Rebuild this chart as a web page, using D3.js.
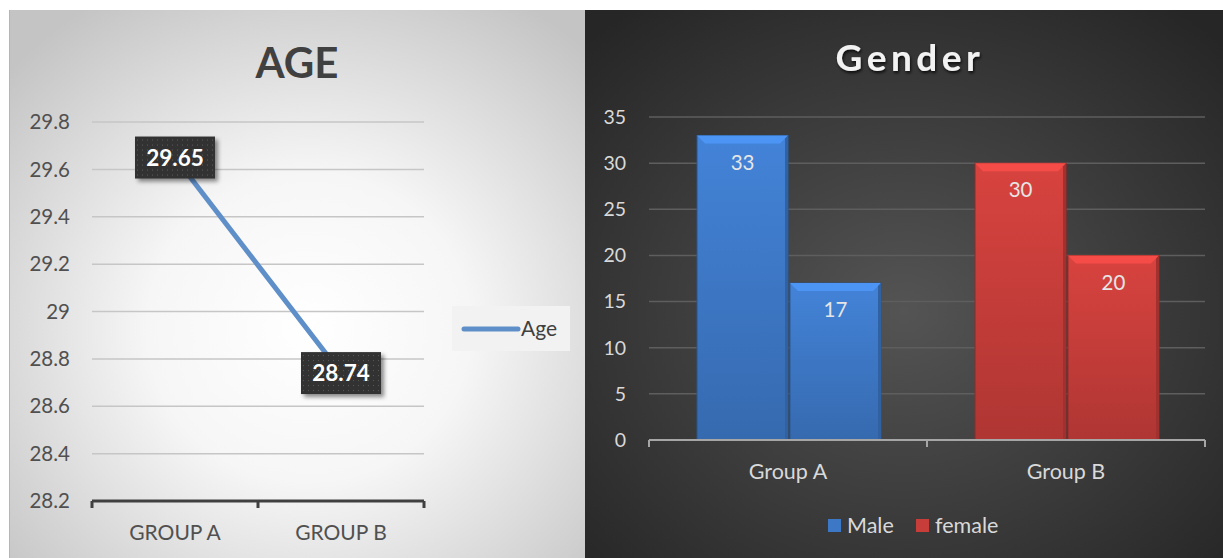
<!DOCTYPE html>
<html>
<head>
<meta charset="utf-8">
<script src="https://cdn.jsdelivr.net/npm/d3@7"></script>
<style>
  body { margin: 0; background: #fff; }
  svg text { font-family: Lato, "Open Sans", sans-serif; }
</style>
</head>
<body>
<svg id="chart" width="1223" height="558"></svg>
<script>
// left chart: age
const ageCategories = ["GROUP A", "GROUP B"];
const ageValues = [29.65, 28.74];
const ageTicks = [28.2, 28.4, 28.6, 28.8, 29, 29.2, 29.4, 29.6, 29.8];

// right chart: gender
const genderGroups = ["Group A", "Group B"];
const genderSeries = ["Male", "female"];
const maleValues = [33, 30];
const femaleValues = [17, 20];
const genderTicks = [0, 5, 10, 15, 20, 25, 30, 35];
const groupColors = ["#3d78c6", "#c63d3a"];

const svg = d3.select("#chart");
const defs = svg.append("defs");

// backgrounds
const lg = defs.append("radialGradient").attr("id", "lightBg")
    .attr("cx", "52%").attr("cy", "58%").attr("r", "70%");
lg.append("stop").attr("offset", "0").attr("stop-color", "#ffffff");
lg.append("stop").attr("offset", "0.4").attr("stop-color", "#f6f6f6");
lg.append("stop").attr("offset", "1").attr("stop-color", "#c4c4c4");

const dg = defs.append("radialGradient").attr("id", "darkBg")
    .attr("cx", "50%").attr("cy", "55%").attr("r", "70%");
dg.append("stop").attr("offset", "0").attr("stop-color", "#545454");
dg.append("stop").attr("offset", "1").attr("stop-color", "#262626");

// dotted label pattern
const pat = defs.append("pattern").attr("id", "dots")
    .attr("width", 5).attr("height", 5).attr("patternUnits", "userSpaceOnUse");
pat.append("rect").attr("width", 5).attr("height", 5).attr("fill", "#333");
pat.append("rect").attr("x", 2).attr("y", 2).attr("width", 1).attr("height", 1).attr("fill", "#5a5a5a");

const shadow = defs.append("filter").attr("id", "shadow")
    .attr("x", "-20%").attr("y", "-20%").attr("width", "150%").attr("height", "150%");
shadow.append("feDropShadow").attr("dx", 3).attr("dy", 3).attr("stdDeviation", 2)
    .attr("flood-color", "#000").attr("flood-opacity", 0.45);

const tshadow = defs.append("filter").attr("id", "tshadow");
tshadow.append("feDropShadow").attr("dx", 1).attr("dy", 2).attr("stdDeviation", 1.5)
    .attr("flood-color", "#000").attr("flood-opacity", 0.8);

// bar gradients per group
groupColors.forEach((c, i) => {
  const g = defs.append("linearGradient").attr("id", "bar" + i)
      .attr("x1", 0).attr("y1", 0).attr("x2", 0).attr("y2", 1);
  g.append("stop").attr("offset", "0").attr("stop-color", d3.color(c).brighter(0.25));
  g.append("stop").attr("offset", "1").attr("stop-color", d3.color(c).darker(0.35));
});

svg.append("rect").attr("x", 9).attr("y", 10).attr("width", 576).attr("height", 548)
    .attr("fill", "url(#lightBg)");
svg.append("line").attr("x1", 9.5).attr("x2", 9.5).attr("y1", 10).attr("y2", 558)
    .attr("stroke", "#b5b5b5");
svg.append("rect").attr("x", 585).attr("y", 10).attr("width", 638).attr("height", 548)
    .attr("fill", "url(#darkBg)");

// ---------- AGE line chart ----------
const x = d3.scaleBand().domain(ageCategories).range([92, 424]);
const y = d3.scaleLinear().domain([28.2, 29.8]).range([501, 122]);

svg.append("text").attr("x", 297).attr("y", 78).attr("text-anchor", "middle")
    .attr("font-size", 42).attr("font-weight", "bold").attr("fill", "#404040")
    .text("AGE");

svg.append("g").selectAll("line").data(ageTicks.slice(1)).join("line")
    .attr("x1", 92).attr("x2", 424)
    .attr("y1", d => y(d)).attr("y2", d => y(d))
    .attr("stroke", "#c6c6c6").attr("stroke-width", 1.5);

svg.append("g").selectAll("text").data(ageTicks).join("text")
    .attr("x", 70).attr("y", d => y(d)).attr("dy", "0.35em")
    .attr("text-anchor", "end").attr("font-size", 20.5).attr("fill", "#505050")
    .text(d => d);

// x axis
const xAxis = svg.append("g").attr("stroke", "#404040").attr("stroke-width", 3);
xAxis.append("line").attr("x1", 92).attr("x2", 424).attr("y1", y(28.2)).attr("y2", y(28.2));
xAxis.selectAll("line.tick").data([92, 92 + x.bandwidth(), 424]).join("line")
    .attr("class", "tick")
    .attr("x1", d => d).attr("x2", d => d)
    .attr("y1", y(28.2)).attr("y2", y(28.2) + 7);

svg.append("g").selectAll("text").data(ageCategories).join("text")
    .attr("x", d => x(d) + x.bandwidth() / 2).attr("y", 540)
    .attr("text-anchor", "middle").attr("font-size", 21).attr("fill", "#505050")
    .text(d => d);

const linePts = ageCategories.map((c, i) => [x(c) + x.bandwidth() / 2, y(ageValues[i])]);
svg.append("path").attr("d", d3.line()(linePts))
    .attr("fill", "none").attr("stroke", "#5f8fc8").attr("stroke-width", 5)
    .attr("stroke-linecap", "round");

const ageLabels = svg.append("g").selectAll("g").data(linePts).join("g")
    .attr("transform", d => `translate(${d[0]},${d[1]})`);
ageLabels.append("rect").attr("x", -40).attr("y", -21).attr("width", 80).attr("height", 42)
    .attr("fill", "url(#dots)").attr("filter", "url(#shadow)");
ageLabels.append("text").attr("dy", "0.36em").attr("text-anchor", "middle")
    .attr("font-size", 22.5).attr("font-weight", "bold").attr("fill", "#fff")
    .text((d, i) => ageValues[i]);

// legend
const leg = svg.append("g");
leg.append("rect").attr("x", 452).attr("y", 306).attr("width", 118).attr("height", 45)
    .attr("fill", "#f2f2f2");
leg.append("line").attr("x1", 464).attr("x2", 518).attr("y1", 329).attr("y2", 329)
    .attr("stroke", "#5f8fc8").attr("stroke-width", 5).attr("stroke-linecap", "round");
leg.append("text").attr("x", 521).attr("y", 329).attr("dy", "0.35em")
    .attr("font-size", 21).attr("fill", "#404040").text("Age");

// ---------- GENDER bar chart ----------
const gx = d3.scaleBand().domain(genderGroups).range([649, 1205]);
const gx1 = d3.scaleBand().domain(genderSeries).range([48, 232]).paddingInner(0.02);
const gy = d3.scaleLinear().domain([0, 35]).range([440, 117]);

svg.append("text").attr("x", 910).attr("y", 71).attr("text-anchor", "middle")
    .attr("font-size", 37).attr("font-weight", "bold").attr("letter-spacing", 4.5)
    .attr("fill", "#f2f2f2").attr("filter", "url(#tshadow)")
    .text("Gender");

svg.append("g").selectAll("line").data(genderTicks.slice(1)).join("line")
    .attr("x1", 649).attr("x2", 1205)
    .attr("y1", d => gy(d)).attr("y2", d => gy(d))
    .attr("stroke", "#5e5e5e").attr("stroke-width", 1.5);

svg.append("g").selectAll("text").data(genderTicks).join("text")
    .attr("x", 626).attr("y", d => gy(d)).attr("dy", "0.35em")
    .attr("text-anchor", "end").attr("font-size", 19.5).attr("fill", "#d9d9d9")
    .text(d => d);

const barData = [];
genderGroups.forEach((g, gi) => {
  barData.push({ group: g, gi, series: "Male", value: maleValues[gi] });
  barData.push({ group: g, gi, series: "female", value: femaleValues[gi] });
});

const bars = svg.append("g").selectAll("g").data(barData).join("g")
    .attr("transform", d => `translate(${gx(d.group) + gx1(d.series)},0)`);
bars.append("rect")
    .attr("y", d => gy(d.value)).attr("width", gx1.bandwidth())
    .attr("height", d => gy(0) - gy(d.value))
    .attr("fill", d => `url(#bar${d.gi})`)
    .attr("stroke", d => d3.color(groupColors[d.gi]).darker(1)).attr("stroke-width", 1);
// bevel on top
bars.append("path")
    .attr("d", d => {
      const w = gx1.bandwidth(), t = gy(d.value);
      return `M0,${t}L${w},${t}L${w - 8},${t + 8}L8,${t + 8}Z`;
    })
    .attr("fill", d => d3.color(groupColors[d.gi]).brighter(0.6));
bars.append("path")
    .attr("d", d => {
      const w = gx1.bandwidth(), t = gy(d.value), b = gy(0);
      return `M${w},${t}L${w},${b}L${w - 3},${b}L${w - 3},${t + 3}Z`;
    })
    .attr("fill", d => d3.color(groupColors[d.gi]).darker(0.6));
bars.append("text")
    .attr("x", gx1.bandwidth() / 2).attr("y", d => gy(d.value) + 27)
    .attr("dy", "0.35em").attr("text-anchor", "middle")
    .attr("font-size", 20.5).attr("fill", "#e6e6e6")
    .text(d => d.value);

// axis
const gAxis = svg.append("g").attr("stroke", "#a6a6a6").attr("stroke-width", 2);
gAxis.append("line").attr("x1", 649).attr("x2", 1205).attr("y1", gy(0)).attr("y2", gy(0));
gAxis.selectAll("line.tick").data([649, 649 + gx.bandwidth(), 1205]).join("line")
    .attr("class", "tick")
    .attr("x1", d => d).attr("x2", d => d)
    .attr("y1", gy(0)).attr("y2", gy(0) + 7);

svg.append("g").selectAll("text").data(genderGroups).join("text")
    .attr("x", d => gx(d) + gx.bandwidth() / 2).attr("y", 479)
    .attr("text-anchor", "middle").attr("font-size", 21.5).attr("fill", "#d9d9d9")
    .text(d => d);

// legend
const gl = svg.append("g").selectAll("g").data(genderSeries).join("g")
    .attr("transform", (d, i) => `translate(${i === 0 ? 828 : 916},519)`);
gl.append("rect").attr("width", 13).attr("height", 13)
    .attr("fill", (d, i) => groupColors[i]);
gl.append("text").attr("x", 19).attr("y", 6.5).attr("dy", "0.35em")
    .attr("font-size", 21.5).attr("fill", "#d9d9d9").text(d => d);
</script>
</body>
</html>
